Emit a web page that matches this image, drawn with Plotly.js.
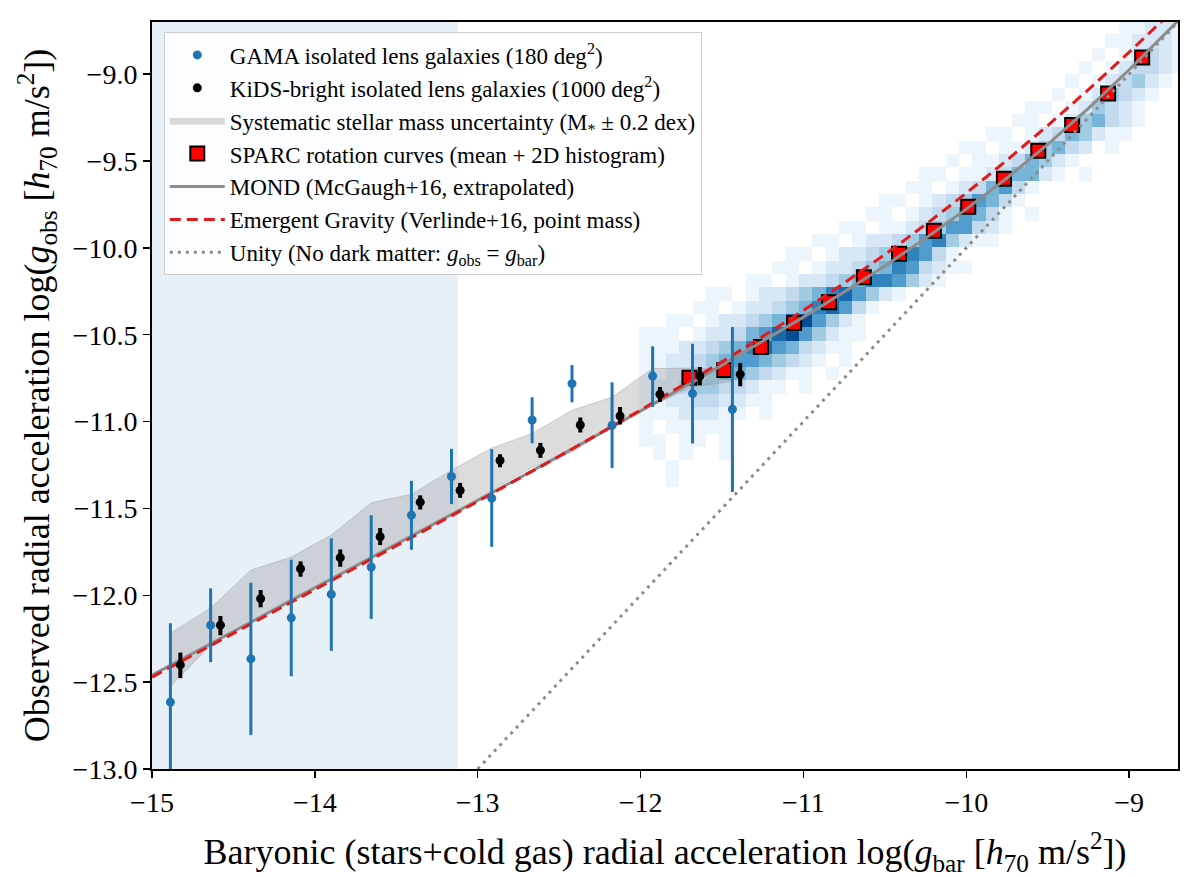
<!DOCTYPE html>
<html><head><meta charset="utf-8">
<script src="https://cdn.plot.ly/plotly-3.0.1.min.js"></script>
<style>html,body{margin:0;padding:0;background:#fff}#chart{width:1200px;height:877px}</style>
</head><body><div id="chart"></div>
<script>
// ---- GAMA isolated lens galaxies ----
const gamaX  = [-14.887,-14.640,-14.393,-14.145,-13.899,-13.654,-13.407,-13.161,-12.914,-12.666,-12.421,-12.175,-11.926,-11.681,-11.436];
const gamaY  = [-12.615,-12.172,-12.366,-12.130,-11.994,-11.837,-11.539,-11.316,-11.441,-10.991,-10.782,-11.021,-10.738,-10.839,-10.929];
const gamaHi = [-12.161,-11.960,-11.928,-11.795,-11.672,-11.539,-11.341,-11.157,-11.159,-10.860,-10.675,-10.774,-10.567,-10.552,-10.456];
const gamaLo = [-13.070,-12.385,-12.805,-12.466,-12.320,-12.136,-11.738,-11.474,-11.721,-11.125,-10.889,-11.268,-10.916,-11.126,-11.405];
// ---- KiDS-bright isolated lens galaxies ----
const kidsX  = [-14.826,-14.580,-14.333,-14.088,-13.844,-13.599,-13.353,-13.108,-12.863,-12.615,-12.370,-12.126,-11.881,-11.636,-11.388];
const kidsY  = [-12.401,-12.172,-12.020,-11.847,-11.784,-11.663,-11.464,-11.397,-11.224,-11.165,-11.020,-10.968,-10.843,-10.738,-10.728];
const kidsHi = [-12.330,-12.119,-11.970,-11.805,-11.736,-11.613,-11.425,-11.353,-11.188,-11.123,-10.977,-10.916,-10.801,-10.686,-10.663];
const kidsLo = [-12.477,-12.230,-12.069,-11.893,-11.836,-11.711,-11.506,-11.439,-11.263,-11.209,-11.063,-11.017,-10.887,-10.791,-10.797];
// ---- Systematic stellar mass uncertainty band ----
const bandX  = [-14.887,-14.640,-14.393,-14.145,-13.899,-13.654,-13.407,-13.161,-12.914,-12.666,-12.421,-12.175,-11.926,-11.681,-11.436];
const bandHi = [-12.218,-12.073,-11.855,-11.780,-11.653,-11.468,-11.418,-11.280,-11.152,-11.069,-10.935,-10.859,-10.695,-10.692,-10.705];
const bandLo = [-12.525,-12.286,-12.153,-12.016,-11.901,-11.786,-11.642,-11.538,-11.395,-11.263,-11.176,-11.030,-10.906,-10.800,-10.770];
// ---- SPARC mean ----
const sparcX = [-11.700,-11.486,-11.261,-11.057,-10.843,-10.629,-10.413,-10.199,-9.988,-9.769,-9.558,-9.350,-9.129,-8.920];
const sparcY = [-10.748,-10.703,-10.571,-10.433,-10.313,-10.169,-10.034,-9.901,-9.763,-9.603,-9.441,-9.293,-9.111,-8.905];
// ---- model curves ----
const curveX = [-15,-14.5,-14,-13.5,-13,-12.5,-12,-11.75,-11.5,-11.25,-11,-10.75,-10.5,-10.25,-10,-9.75,-9.5,-9.25,-9,-8.7];
const mondY  = [-12.460,-12.209,-11.958,-11.707,-11.454,-11.199,-10.941,-10.809,-10.675,-10.539,-10.399,-10.254,-10.104,-9.945,-9.777,-9.598,-9.404,-9.197,-8.975,-8.693];
const egY    = [-12.471,-12.220,-11.969,-11.715,-11.460,-11.200,-10.934,-10.797,-10.656,-10.510,-10.360,-10.203,-10.039,-9.866,-9.685,-9.495,-9.296,-9.089,-8.874,-8.607];
const unityX = [-13,-8.7];
const unityY = [-13,-8.7];
// ---- SPARC 2D histogram: rows from top, [first column, cell levels] ----
const heatRows = [
 [36,"11221"],[35,"112221"],[34,"1012321"],[33,"10123321"],[32,"101234210"],
 [31,"10124321"],[29,"1101243210"],[28,"1101245321"],[26,"11012354211"],
 [24,"110112453201"],[23,"10112354210"],[21,"1101123552101"],[20,"1101235631"],
 [18,"11012346531"],[17,"1101234653101"],[15,"1101123466321"],[13,"11012234674211"],
 [11,"1101223457631"],[10,"110122345763211"],[8,"1101223457764210"],[5,"110122345786421"],
 [4,"11012234578631"],[2,"110122345896421"],[0,"11101223568964211"],[0,"1112234578653211"],
 [0,"1122345665432101"],[0,"112234554321101"],[0,"1223443321101"],[0,"1122332211"],
 [0,"1112221101"],[0,"1011111"],[0,"1101101"],[0,"0101001"],[2,"1"],[2,"1"]
];
const heatCols = 41, heatX0 = -12.008, heatDX = 0.0818, heatYTop = -8.694, heatDY = 0.0766;
const blueZoneX = [-15, -13.12];

const nR = heatRows.length;
const xEdges = [], yEdges = [], z = [];
for (let c = 0; c <= heatCols; c++) xEdges.push(heatX0 + c*heatDX);
for (let r = nR; r >= 0; r--) yEdges.push(heatYTop - r*heatDY);
for (let r = nR-1; r >= 0; r--) {
  const row = new Array(heatCols).fill(null);
  const [s, str] = heatRows[r];
  for (let i = 0; i < str.length; i++) { const v = +str[i]; if (v > 0 && s+i < heatCols) row[s+i] = v; }
  z.push(row);
}
const diff = (a,b) => a.map((v,i)=>v-b[i]);

const FONT = 'Liberation Serif, Times New Roman, serif';
const blue = '#1f74b4';
const traces = [
 {type:'heatmap', x:xEdges, y:yEdges, z:z, zmin:0.5, zmax:10, showscale:false, hoverinfo:'skip', showlegend:false,
  colorscale:[[0,'#f7fbff'],[0.125,'#deebf7'],[0.25,'#c6dbef'],[0.375,'#9ecae1'],[0.5,'#6baed6'],[0.625,'#4292c6'],[0.75,'#2171b5'],[0.875,'#08519c'],[1,'#08306b']]},
 {type:'scatter', mode:'lines', x:bandX.concat(bandX.slice().reverse()), y:bandHi.concat(bandLo.slice().reverse()),
  fill:'toself', fillcolor:'rgba(140,140,140,0.3)', line:{color:'rgba(140,140,140,0.35)', width:1},
  name:'Systematic stellar mass uncertainty (M<sub>*</sub> ± 0.2 dex)', legendrank:3, legendgroup:'c'},
 {type:'scatter', mode:'markers', x:sparcX, y:sparcY, marker:{symbol:'square', size:14, color:'#ff0000', line:{color:'#000', width:2}},
  name:'SPARC rotation curves (mean + 2D histogram)', legendrank:4, legendgroup:'d'},
 {type:'scatter', mode:'lines', x:curveX, y:mondY, line:{color:'#8c8c8c', width:3},
  name:'MOND (McGaugh+16, extrapolated)', legendrank:5, legendgroup:'e'},
 {type:'scatter', mode:'lines', x:curveX, y:egY, line:{color:'#e31a1c', width:3, dash:'11px,6px'},
  name:'Emergent Gravity (Verlinde+16, point mass)', legendrank:6, legendgroup:'f'},
 {type:'scatter', mode:'lines', x:unityX, y:unityY, line:{color:'#8c8c8c', width:3, dash:'3px,5px'},
  name:'Unity (No dark matter: <i>g</i><sub>obs</sub> = <i>g</i><sub>bar</sub>)', legendrank:7, legendgroup:'g'},
 {type:'scatter', mode:'markers', x:gamaX, y:gamaY, marker:{color:blue, size:9},
  error_y:{type:'data', symmetric:false, array:diff(gamaHi,gamaY), arrayminus:diff(gamaY,gamaLo), color:blue, thickness:3, width:0},
  name:'GAMA isolated lens galaxies (180 deg<sup>2</sup>)', legendrank:1, legendgroup:'a'},
 {type:'scatter', mode:'markers', x:kidsX, y:kidsY, marker:{color:'#000', size:9},
  error_y:{type:'data', symmetric:false, array:diff(kidsHi,kidsY), arrayminus:diff(kidsY,kidsLo), color:'#000', thickness:4, width:0},
  name:'KiDS-bright isolated lens galaxies (1000 deg<sup>2</sup>)', legendrank:2, legendgroup:'b'}
];

const layout = {
  width:1200, height:877, paper_bgcolor:'#fff', plot_bgcolor:'rgba(0,0,0,0)',
  margin:{l:152, r:22, t:22, b:108},
  font:{family:FONT, color:'#000'},
  showlegend:true,
  legend:{x:0.0115, y:0.986, xanchor:'left', yanchor:'top', bgcolor:'rgba(255,255,255,0.85)', bordercolor:'#cccccc', borderwidth:1,
          font:{family:FONT, size:23, color:'#000'}, tracegroupgap:0, itemwidth:55},
  xaxis:{range:[-15,-8.7], tickvals:[-15,-14,-13,-12,-11,-10,-9], ticks:'outside', ticklen:7, tickwidth:1.5, tickcolor:'#000',
         showline:true, mirror:true, linecolor:'#000', linewidth:2, showgrid:false, zeroline:false,
         tickfont:{family:FONT, size:28},
         title:{text:'Baryonic (stars+cold gas) radial acceleration log(<i>g</i><sub>bar</sub> [<i>h</i><sub>70</sub> m/s<sup>2</sup>])', font:{family:FONT, size:36}, standoff:26}},
  yaxis:{range:[-13,-8.7], tickvals:[-13,-12.5,-12,-11.5,-11,-10.5,-10,-9.5,-9], tickformat:'.1f', ticks:'outside', ticklen:7, tickwidth:1.5, tickcolor:'#000',
         showline:true, mirror:true, linecolor:'#000', linewidth:2, showgrid:false, zeroline:false,
         tickfont:{family:FONT, size:28},
         title:{text:'Observed radial acceleration log(<i>g</i><sub>obs</sub> [<i>h</i><sub>70</sub> m/s<sup>2</sup>])', font:{family:FONT, size:36}, standoff:12}},
  shapes:[{type:'rect', xref:'x', yref:'paper', x0:blueZoneX[0], x1:blueZoneX[1], y0:0, y1:1, fillcolor:'rgb(231,240,247)', line:{width:0}, layer:'below'}]
};
Plotly.newPlot('chart', traces, layout, {displayModeBar:false, staticPlot:true});
</script></body></html>
